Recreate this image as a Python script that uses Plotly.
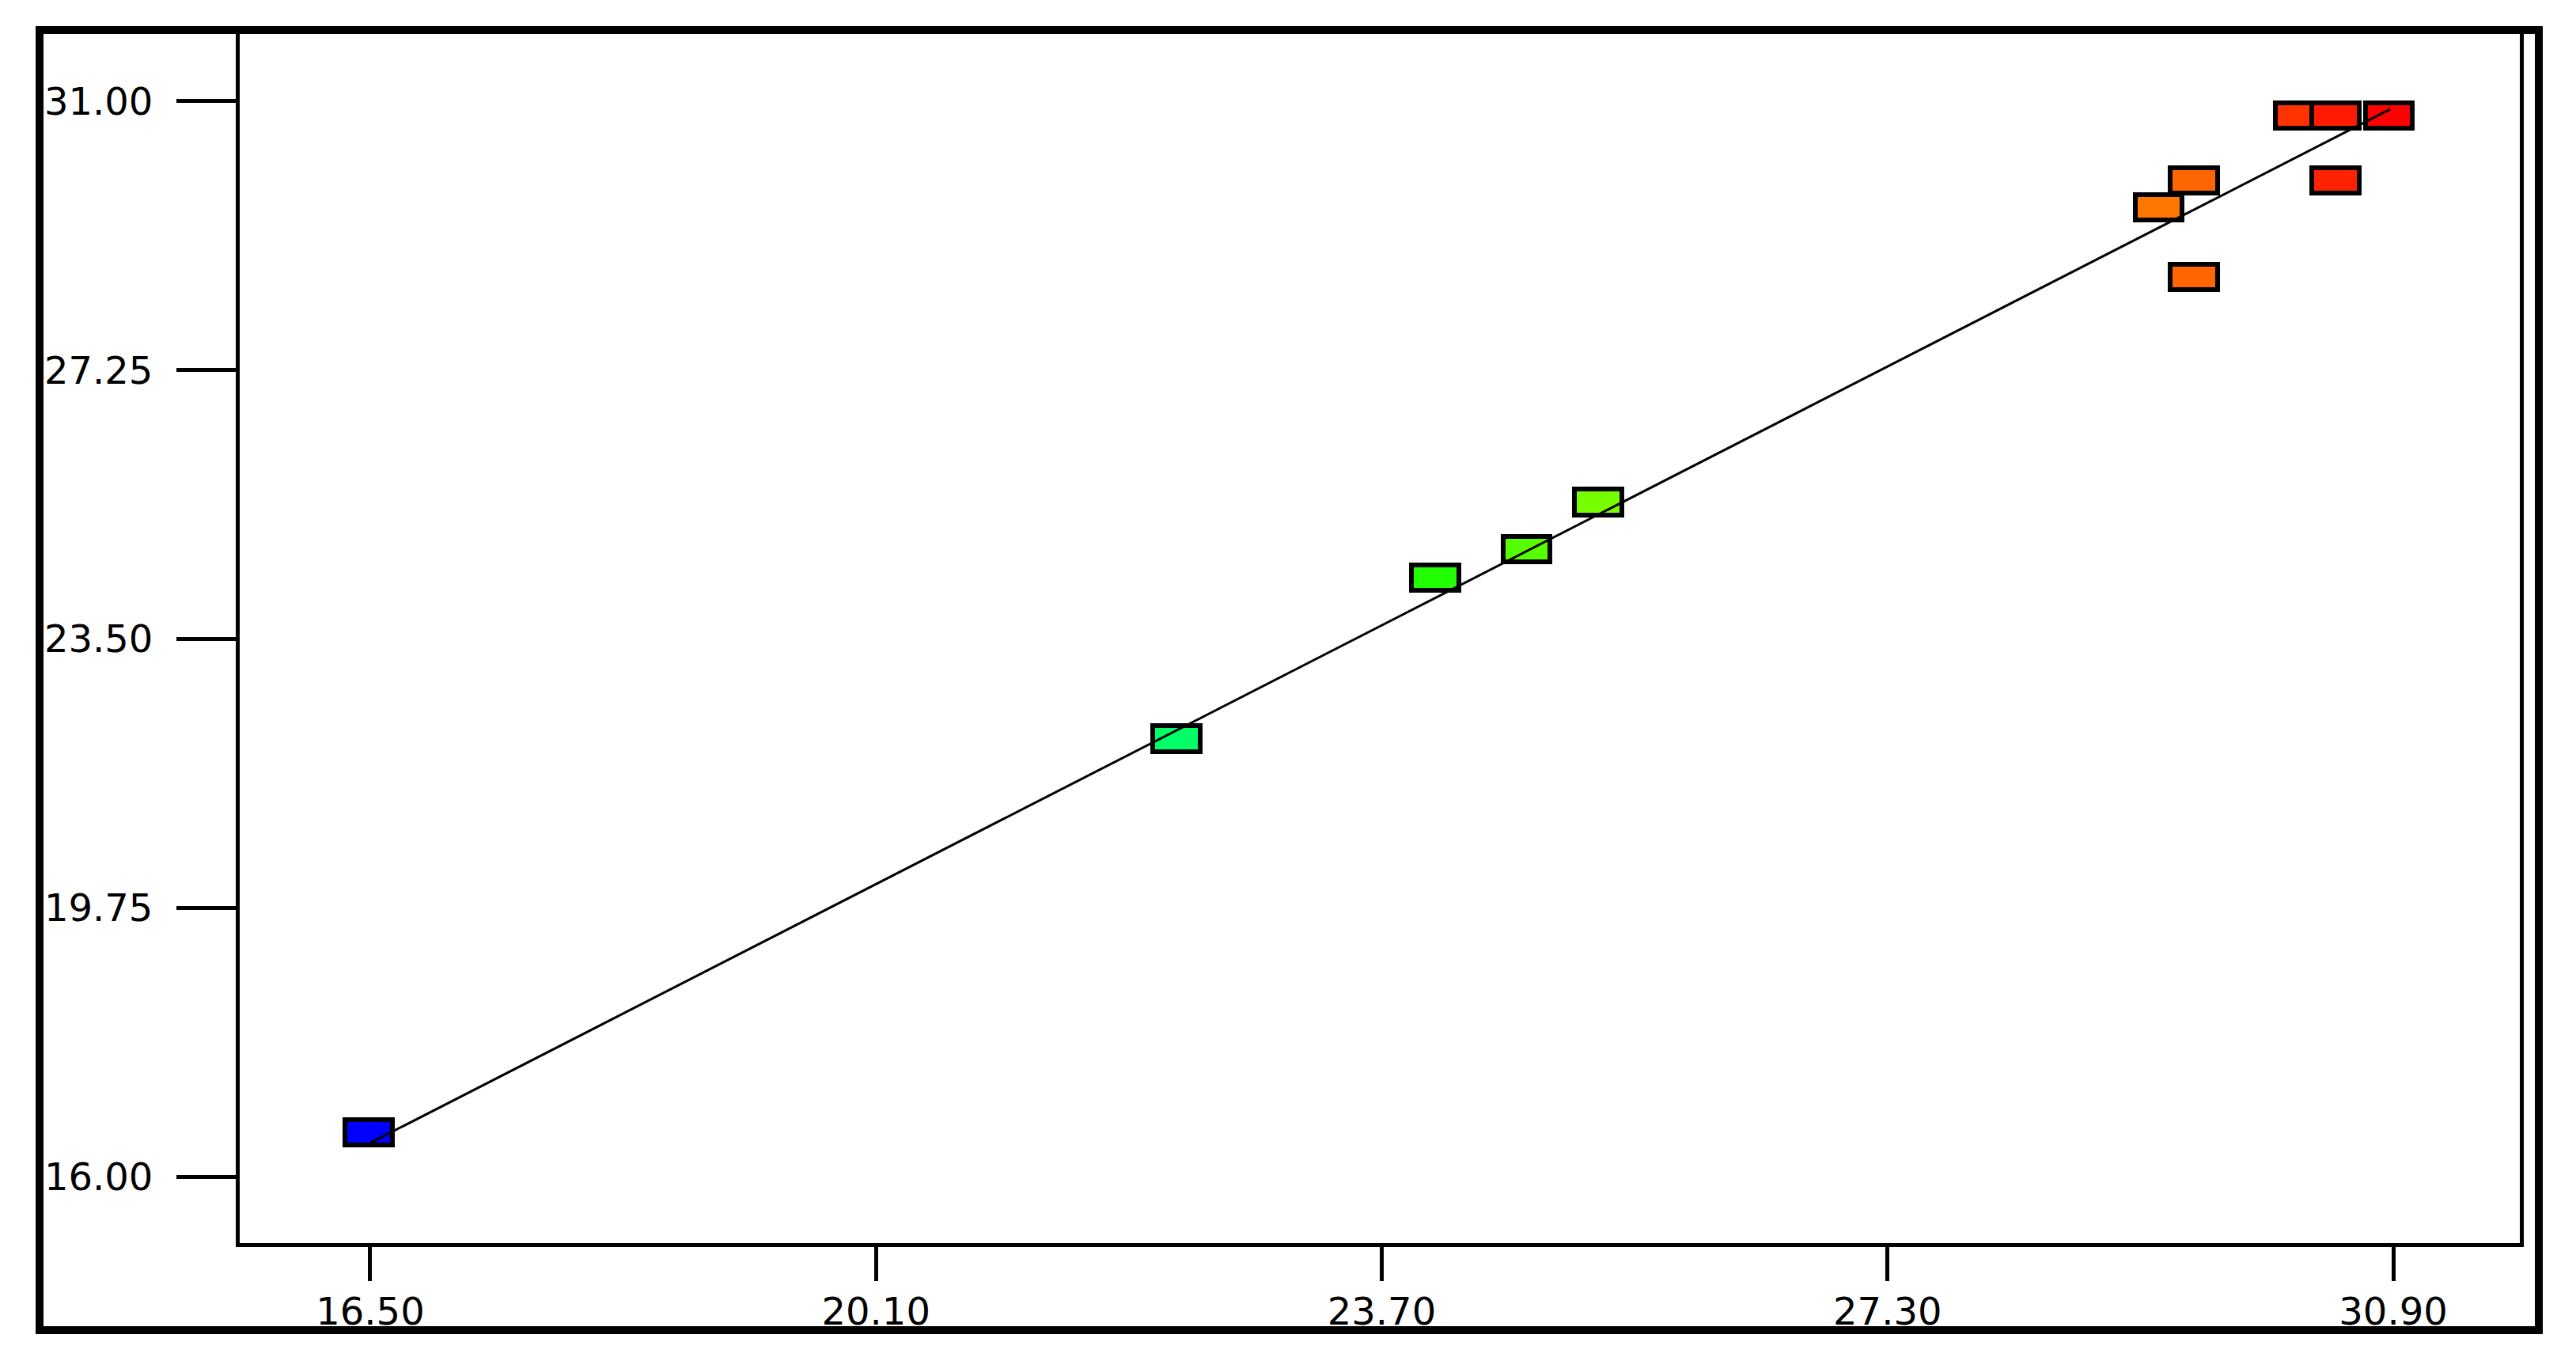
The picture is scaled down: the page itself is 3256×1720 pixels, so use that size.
import plotly.graph_objects as go

# ---- data ----
x_vals = [16.49, 22.24, 24.08, 24.73, 25.24, 29.48, 29.23, 29.48, 30.23, 30.49, 30.87, 30.49]
y_vals = [16.62, 22.11, 24.36, 24.75, 25.41, 29.90, 29.52, 28.55, 30.80, 30.80, 30.80, 29.90]
point_colors = ["#0000FF", "#00FF66", "#22FF00", "#55FF00", "#77FF00", "#FF6600",
                "#FF7700", "#FF6600", "#FF3300", "#FF1A00", "#FF0000", "#FF2200"]

fit_x = [16.50, 30.88]
fit_y = [16.47, 30.89]

x_ticks = [16.50, 20.10, 23.70, 27.30, 30.90]
y_ticks = [16.00, 19.75, 23.50, 27.25, 31.00]

# ---- marker box size (data units) ----
BOX_W = 0.335
BOX_H = 0.355

# page body has an 8px default margin -> compensate
PAD = 8
W, H = 3256 - 2 * PAD, 1720 - 2 * PAD
L = 303 - PAD
T = 43 - PAD
R = W - (3185 - PAD)
B = H - (1571 - PAD)

fig = go.Figure()

fig.add_trace(go.Bar(
    x=x_vals,
    y=[BOX_H] * len(x_vals),
    base=[v - BOX_H / 2 for v in y_vals],
    width=BOX_W,
    marker=dict(color=point_colors, line=dict(color="black", width=6)),
    customdata=y_vals,
    hovertemplate="x=%{x}<br>y=%{customdata}<extra></extra>",
    showlegend=False,
))

fig.add_trace(go.Scatter(
    x=fit_x, y=fit_y, mode="lines",
    line=dict(color="black", width=3),
    showlegend=False, hoverinfo="skip",
))

pw = W - L - R
ph = H - T - B
# outer frame (pixel frame of the reference converted to paper coords)
fx0, fx1 = 50 - PAD, 3209 - PAD
fy0, fy1 = 38 - PAD, 1681 - PAD
fig.add_shape(type="rect", xref="paper", yref="paper",
              x0=(fx0 - L) / pw, x1=(fx1 - L) / pw,
              y0=(H - B - fy1) / ph, y1=(H - B - fy0) / ph,
              line=dict(color="black", width=10), fillcolor="rgba(0,0,0,0)")

font = dict(family="DejaVu Sans", size=48, color="black")

fig.update_layout(
    width=W, height=H,
    margin=dict(l=L, r=R, t=T, b=B),
    paper_bgcolor="white", plot_bgcolor="white",
    barmode="overlay",
    bargap=0,
    xaxis=dict(
        range=[15.571, 31.801],
        tickvals=x_ticks, tickformat=".2f",
        ticks="outside", ticklen=43, tickwidth=5, tickcolor="black",
        showline=True, linewidth=5, linecolor="black", mirror=True,
        showgrid=False, zeroline=False,
        tickfont=font, ticklabelstandoff=-3,
    ),
    yaxis=dict(
        range=[15.073, 31.938],
        tickvals=y_ticks, tickformat=".2f",
        ticks="outside", ticklen=75, tickwidth=5, tickcolor="black",
        showline=True, linewidth=5, linecolor="black", mirror=True,
        showgrid=False, zeroline=False,
        tickfont=font, ticklabelstandoff=20,
    ),
)

fig.write_html("out.html")
